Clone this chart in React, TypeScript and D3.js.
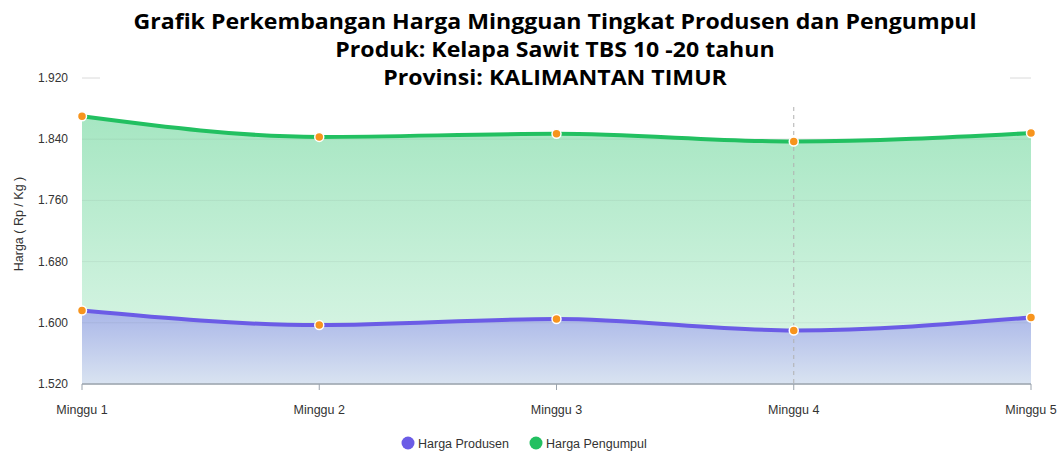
import React from "react";
import * as d3 from "d3";

const weeks = ["Minggu 1", "Minggu 2", "Minggu 3", "Minggu 4", "Minggu 5"];
const hargaProdusen = [1616, 1597, 1605, 1590, 1607];
const hargaPengumpul = [1870, 1843, 1847, 1837, 1848];
const yTicks = [1520, 1600, 1680, 1760, 1840, 1920];
const titleLines = [
  "Grafik Perkembangan Harga Mingguan Tingkat Produsen dan Pengumpul",
  "Produk: Kelapa Sawit TBS 10 -20 tahun",
  "Provinsi: KALIMANTAN TIMUR",
];

const width = 1059;
const height = 452;
const margin = { top: 78, right: 28, bottom: 68, left: 82 };

function fmt(v: number) {
  // 1920 -> "1.920"
  return d3.format(",")(v).replace(/,/g, ".");
}

export default function App() {
  const x = d3
    .scalePoint<string>()
    .domain(weeks)
    .range([margin.left, width - margin.right]);

  const y = d3
    .scaleLinear()
    .domain([1520, 1920])
    .range([height - margin.bottom, margin.top]);

  const bottom = y(1520);

  const line = d3
    .line<number>()
    .x((_, i) => x(weeks[i]) as number)
    .y(d => y(d))
    .curve(d3.curveMonotoneX);

  const area = d3
    .area<number>()
    .x((_, i) => x(weeks[i]) as number)
    .y0(bottom)
    .y1(d => y(d))
    .curve(d3.curveMonotoneX);

  const font = "'Liberation Sans', Arial, sans-serif";

  return (
    <svg
      width={width}
      height={height}
      style={{ position: "absolute", left: 0, top: 0, background: "#fff" }}
    >
      <defs>
        <linearGradient id="gGreen" x1="0" y1="0" x2="0" y2="1">
          <stop offset="0%" stopColor="#a6e6c2" />
          <stop offset="100%" stopColor="#e0f7ea" />
        </linearGradient>
        <linearGradient id="gBlue" x1="0" y1="0" x2="0" y2="1">
          <stop offset="0%" stopColor="#a9b6e8" />
          <stop offset="100%" stopColor="#d9e3f1" />
        </linearGradient>
      </defs>

      {/* grid */}
      {yTicks.map(t => (
        <line
          key={t}
          x1={margin.left}
          x2={width - margin.right}
          y1={y(t)}
          y2={y(t)}
          stroke="#e6e6e6"
        />
      ))}

      {/* areas */}
      <path d={area(hargaPengumpul) || ""} fill="url(#gGreen)" />
      <path d={area(hargaProdusen) || ""} fill="url(#gBlue)" />
      {yTicks.slice(1).map(t => (
        <line
          key={"g" + t}
          x1={margin.left}
          x2={width - margin.right}
          y1={y(t)}
          y2={y(t)}
          stroke="#000"
          strokeOpacity={0.05}
        />
      ))}

      {/* crosshair */}
      <line
        x1={x("Minggu 4")}
        x2={x("Minggu 4")}
        y1={107}
        y2={bottom}
        stroke="#b0b0b0"
        strokeDasharray="4,4"
      />

      {/* x axis */}
      <line x1={margin.left} x2={width - margin.right} y1={bottom} y2={bottom} stroke="#9aa3ad" strokeWidth={1.5} />
      {weeks.map(w => (
        <g key={w}>
          <line x1={x(w)} x2={x(w)} y1={bottom} y2={bottom + 6} stroke="#9aa3ad" />
          <text
            x={x(w)}
            y={bottom + 30}
            textAnchor="middle"
            fontFamily={font}
            fontSize={12.5}
            fill="#333"
          >
            {w}
          </text>
        </g>
      ))}

      {/* y ticks */}
      {yTicks.map(t => (
        <text
          key={"t" + t}
          x={68}
          y={y(t) + 4}
          textAnchor="end"
          fontFamily={font}
          fontSize={12}
          fill="#333"
        >
          {fmt(t)}
        </text>
      ))}
      <text
        transform={`translate(23,${(margin.top + bottom) / 2 - 7}) rotate(-90)`}
        textAnchor="middle"
        fontFamily={font}
        fontSize={12.5}
        fill="#333"
      >
        Harga ( Rp / Kg )
      </text>

      {/* lines */}
      <path d={line(hargaPengumpul) || ""} fill="none" stroke="#22c061" strokeWidth={4} />
      <path d={line(hargaProdusen) || ""} fill="none" stroke="#6b5ce6" strokeWidth={4} />

      {/* markers */}
      {[hargaPengumpul, hargaProdusen].map((s, si) =>
        s.map((v, i) => (
          <circle
            key={si + "-" + i}
            cx={x(weeks[i])}
            cy={y(v)}
            r={4.5}
            fill="#f7941d"
            stroke="#fff"
            strokeWidth={1.5}
          />
        ))
      )}

      {/* title */}
      <rect x={100} y={4} width={910} height={88} fill="#fff" />
      <g transform="translate(555,0) scale(1.1,1)">
        {titleLines.map((t, i) => (
          <text
            key={t}
            x={0}
            y={29 + i * 28}
            textAnchor="middle"
            fontFamily="'Open Sans', sans-serif"
            fontWeight="bold"
            fontSize={21}
            fill="#000"
          >
            {t}
          </text>
        ))}
      </g>

      {/* legend */}
      <circle cx={408} cy={443} r={6.5} fill="#6b5ce6" />
      <text x={418} y={448} fontFamily={font} fontSize={12.5} fill="#333">
        Harga Produsen
      </text>
      <circle cx={536} cy={443} r={6.5} fill="#22c061" />
      <text x={546} y={448} fontFamily={font} fontSize={12.5} fill="#333">
        Harga Pengumpul
      </text>
    </svg>
  );
}
